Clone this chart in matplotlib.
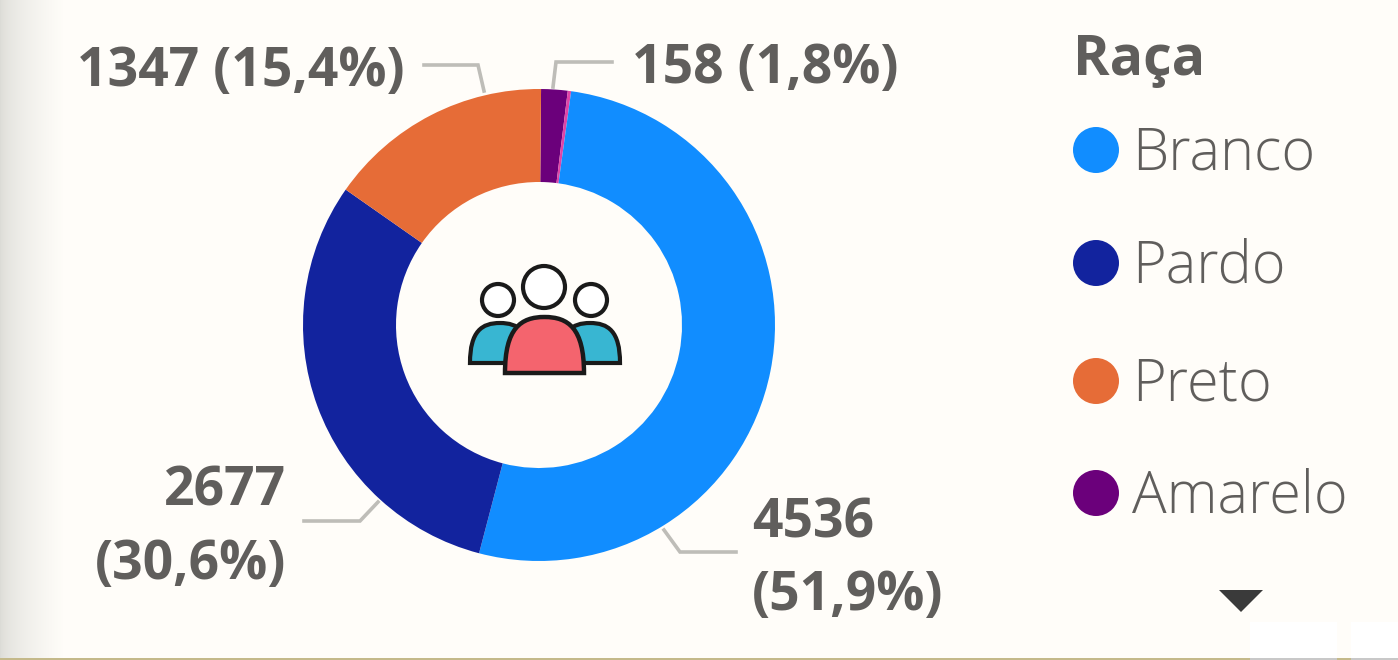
import numpy as np
import matplotlib
matplotlib.use("Agg")
import matplotlib.pyplot as plt
from matplotlib.patches import Circle, PathPatch, Polygon, Rectangle
from matplotlib.path import Path

# data
legend_title = "Raça"
categories = ["Amarelo", "Outro", "Branco", "Pardo", "Preto"]
values = [158, 20, 4536, 2677, 1347]
slice_colors = ["#6B007B", "#E044A7", "#118DFF", "#12239E", "#E66C37"]
legend_names = ["Branco", "Pardo", "Preto", "Amarelo"]
legend_colors = ["#118DFF", "#12239E", "#E66C37", "#6B007B"]

BG = "#FFFDF9"
TXT = "#605E5C"
W, H = 1398, 660
CX, CY, R = 539, 325, 236

plt.rcParams["font.family"] = ["Open Sans", "DejaVu Sans"]
fig = plt.figure(figsize=(W / 100, H / 100), dpi=100, facecolor=BG)

# donut lives in its own axes, sized so radius 1 = R pixels
side = 2 * R * 1.05
pie_ax = fig.add_axes([(CX - side / 2) / W, 1 - (CY + side / 2) / H, side / W, side / H])
pie_ax.pie(values, colors=slice_colors, startangle=89.5, counterclock=False, radius=1,
           wedgeprops={"width": 93 / 236, "linewidth": 0})
pie_ax.set_xlim(-1.05, 1.05)
pie_ax.set_ylim(-1.05, 1.05)

# everything else in pixel coordinates
ax = fig.add_axes([0, 0, 1, 1], facecolor="none")
ax.set_xlim(0, W)
ax.set_ylim(H, 0)
ax.axis("off")

# soft shadow on the left edge
shade = np.linspace(0, 1, 64).reshape(1, -1) ** 0.6
rgb0, rgb1 = np.array([0.86, 0.86, 0.84]), np.array(matplotlib.colors.to_rgb(BG))
grad = (rgb0[None, None, :] * (1 - shade[..., None]) + rgb1[None, None, :] * shade[..., None])
ax.imshow(grad, extent=(0, 64, H, 0), aspect="auto", zorder=0)
ax.set_xlim(0, W)
ax.set_ylim(H, 0)

# bottom edge and the white boxes in the corner
ax.add_patch(Rectangle((0, 658), W, 2, color="#C4B98A", lw=0))
ax.add_patch(Rectangle((1250, 622), 87, 38, color="#FFFFFF", lw=0))
ax.add_patch(Rectangle((1351, 622), 47, 38, color="#FFFFFF", lw=0))
ax.add_patch(Rectangle((1250, 658), 87, 2, color="#C8C8C8", lw=0))
ax.add_patch(Rectangle((1351, 658), 47, 2, color="#C8C8C8", lw=0))

# leader lines
leaders = [
    ([424, 478, 484], [65, 65, 91]),
    ([612, 556, 553], [62, 62, 87]),
    ([304, 360, 378], [521, 521, 502]),
    ([736, 680, 664], [552, 552, 530]),
]
for xs, ys in leaders:
    ax.plot(xs, ys, color="#BEBDB8", lw=2.6, solid_joinstyle="miter")

# data labels
lab = dict(color=TXT, fontsize=38.5, fontweight="bold", va="center")
ax.text(77, 72, "1347 (15,4%)", ha="left", **lab)
ax.text(632, 69, "158 (1,8%)", ha="left", **lab)
ax.text(286, 492, "2677", ha="right", **lab)
ax.text(286, 565, "(30,6%)", ha="right", **lab)
ax.text(752, 523, "4536", ha="left", **lab)
ax.text(752, 596, "(51,9%)", ha="left", **lab)

# legend
ax.text(1073, 61, legend_title, color=TXT, fontsize=40, fontweight="bold", va="center", ha="left")
legend_y = [150, 263, 381, 493]
for name, col, y in zip(legend_names, legend_colors, legend_y):
    ax.add_patch(Circle((1096, y), 23, color=col, lw=0))
    ax.text(1132, y + 4, name, color=TXT, fontsize=41.5, fontweight="light", va="center", ha="left")
ax.add_patch(Polygon([(1219, 590), (1263, 590), (1241, 612)], color="#3A3A3A", lw=0))


# people icon in the hole
def body(x0, x1, top, bottom):
    mid = (x0 + x1) / 2
    h = bottom - top
    verts = [(x0, bottom), (x0, top + h * 0.2), (x0 + (x1 - x0) * 0.2, top), (mid, top),
             (x1 - (x1 - x0) * 0.2, top), (x1, top + h * 0.2), (x1, bottom), (x0, bottom)]
    codes = [Path.MOVETO, Path.CURVE4, Path.CURVE4, Path.CURVE4,
             Path.CURVE4, Path.CURVE4, Path.CURVE4, Path.CLOSEPOLY]
    return Path(verts, codes)


ICON = "#1A1A1A"
ax.add_patch(PathPatch(body(470, 530, 323, 363), fc="#38B6D2", ec=ICON, lw=3, zorder=5))
ax.add_patch(PathPatch(body(560, 620, 323, 363), fc="#38B6D2", ec=ICON, lw=3, zorder=5))
ax.add_patch(PathPatch(body(505, 584, 317, 373), fc="#F4646E", ec=ICON, lw=3.2, zorder=6))
for x, y, r in [(498, 300, 16), (591, 300, 16), (544, 287, 21)]:
    ax.add_patch(Circle((x, y), r, fc="#FFFFFF", ec=ICON, lw=3, zorder=6))

fig.savefig("out.png", dpi=100, facecolor=BG)
